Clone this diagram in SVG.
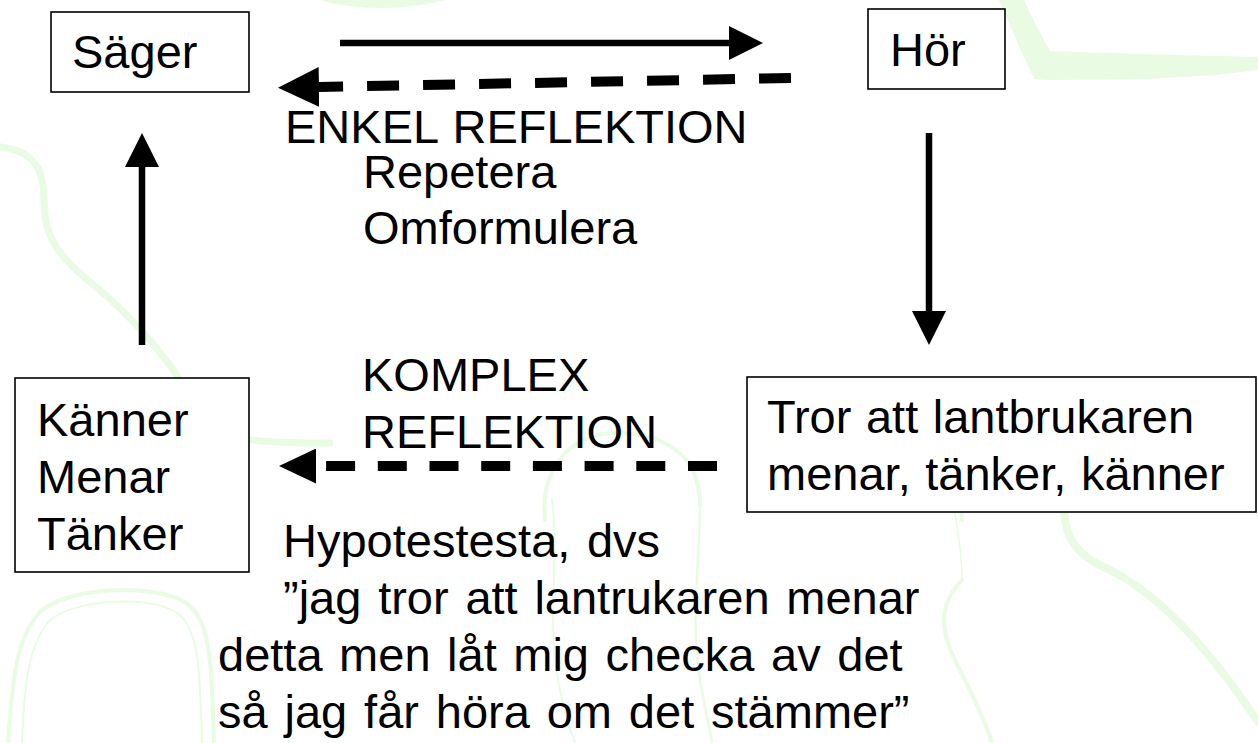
<svg xmlns="http://www.w3.org/2000/svg" width="1258" height="743" viewBox="0 0 1258 743">
<style>
.bg{fill:none;stroke:#eafbe3;stroke-linecap:round;stroke-linejoin:round}
.bgf{fill:#e9fbe2;stroke:none}
.box{fill:#fff;stroke:#000;stroke-width:1.6}
.t{font-family:"Liberation Sans",Arial,sans-serif;font-size:47px;fill:#000}
.solid{fill:none;stroke:#000;stroke-width:6.5}
.dash1{fill:none;stroke:#000;stroke-width:10;stroke-dasharray:32 24}
.dash2{fill:none;stroke:#000;stroke-width:10;stroke-dasharray:29 22.7}
</style>
<defs>
<marker id="headS" markerUnits="userSpaceOnUse" markerWidth="34" markerHeight="34" viewBox="0 0 33 33" refX="0" refY="16.5" orient="auto"><path d="M0,0 L33,16.5 L0,33 Z" fill="#000"/></marker>
<marker id="headD1" markerUnits="userSpaceOnUse" markerWidth="41" markerHeight="40" viewBox="0 0 40 39" refX="0" refY="19.5" orient="auto"><path d="M0,0 L40,19.5 L0,39 Z" fill="#000"/></marker>
<marker id="headD2" markerUnits="userSpaceOnUse" markerWidth="37" markerHeight="35" viewBox="0 0 36 34" refX="0" refY="17" orient="auto"><path d="M0,0 L36,17 L0,34 Z" fill="#000"/></marker>
</defs>
<rect width="1258" height="743" fill="#fff"/>
<g id="background">
<path class="bgf" d="M318,0 Q380,16 446,0 Z"/>
<path class="bgf" d="M999,0 L1024,0 Q1038,30 1050,51 L1140,54 L1258,57 L1258,70 L1215,75 L1150,79 L1048,80 L1034,79 Q1016,40 999,0 Z"/>
<path class="bg" stroke-width="7" d="M0,147 C30,150 44,165 44,200 C44,238 58,255 90,282 C140,322 178,372 200,412 C213,436 228,443 330,443"/>
<path class="bg" stroke-width="4" d="M8,743 C12,690 14,640 40,612 C65,588 150,582 185,602 C210,618 212,660 214,743"/>
<path class="bg" stroke-width="2" d="M22,743 C24,695 26,650 48,622 C70,600 145,594 176,612 C198,626 200,665 202,743"/>
<path class="bg" stroke-width="4" d="M545,520 C540,470 570,433 615,433 C665,433 700,455 700,505"/>
<path class="bg" stroke-width="2" d="M552,500 C560,560 545,620 560,690 C565,715 570,730 575,743"/>
<path class="bg" stroke-width="2.5" d="M700,505 C700,560 690,620 700,680 C705,710 710,730 712,743"/>
<path class="bg" stroke-width="4" d="M962,520 C958,470 985,432 1030,432 C1075,432 1092,460 1090,505"/>
<path class="bg" stroke-width="8" d="M1063,493 C1063,530 1068,552 1110,570 C1160,595 1210,650 1258,722"/>
<path class="bg" stroke-width="4" d="M962,580 C945,598 935,620 955,660 C970,690 985,720 992,743"/>
<path class="bg" stroke-width="1.5" d="M952,493 C955,520 962,545 962,580"/>
</g>
<g id="connectors">
<path class="solid" d="M340,43 L729,43" marker-end="url(#headS)"/>
<path class="dash1" d="M791,78 L319,87" marker-end="url(#headD1)"/>
<path class="solid" d="M929,133 L929,311" marker-end="url(#headS)"/>
<path class="dash2" d="M717,466 L316,466" marker-end="url(#headD2)"/>
<path class="solid" d="M142,345 L142,167" marker-end="url(#headS)"/>
</g>
<g id="node-sager">
<rect class="box" x="51" y="12" width="198" height="80"/>
<text class="t" x="72" y="68">Säger</text>
</g>
<g id="node-hor">
<rect class="box" x="868" y="9" width="137" height="80"/>
<text class="t" x="890" y="66">Hör</text>
</g>
<g id="node-kanner">
<rect class="box" x="15" y="378" width="234" height="194"/>
<text class="t" x="37" y="436">Känner</text>
<text class="t" x="37" y="493">Menar</text>
<text class="t" x="37" y="550">Tänker</text>
</g>
<g id="node-tror">
<rect class="box" x="747" y="377" width="509" height="135"/>
<text class="t" x="767" y="433" word-spacing="1.5">Tror att lantbrukaren</text>
<text class="t" x="767" y="490" word-spacing="1.5">menar, tänker, känner</text>
</g>
<g id="label-enkel">
<text class="t" x="285" y="143" word-spacing="2">ENKEL REFLEKTION</text>
<text class="t" x="363" y="188">Repetera</text>
<text class="t" x="363" y="244">Omformulera</text>
</g>
<g id="label-komplex">
<text class="t" x="362" y="391">KOMPLEX</text>
<text class="t" x="362" y="448">REFLEKTION</text>
</g>
<g id="label-hypotes">
<text class="t" x="283" y="557" word-spacing="3.5">Hypotestesta, dvs</text>
<text class="t" x="283" y="614" word-spacing="3.7">”jag tror att lantrukaren menar</text>
<text class="t" x="218" y="671" word-spacing="3.5">detta men låt mig checka av det</text>
<text class="t" x="218" y="728" word-spacing="3.8">så jag får höra om det stämmer”</text>
</g>
</svg>
